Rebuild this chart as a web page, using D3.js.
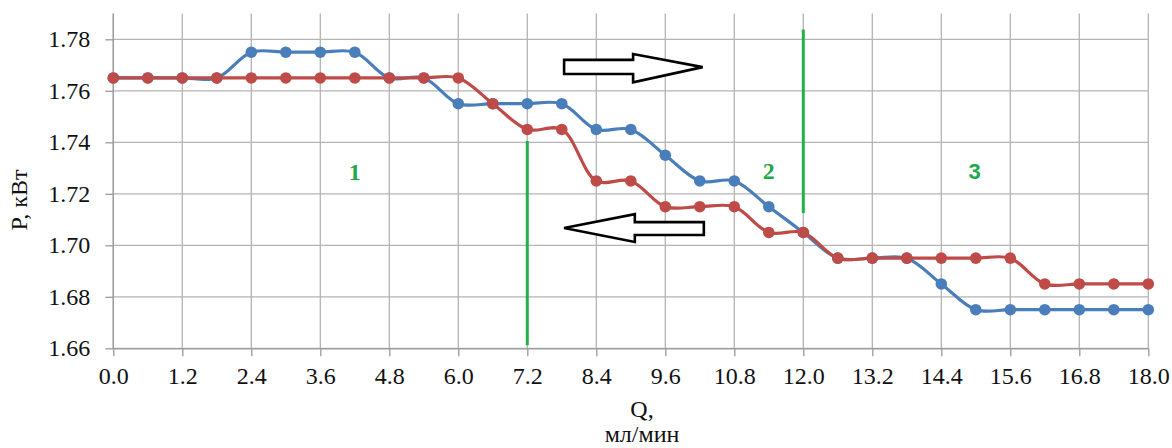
<!DOCTYPE html>
<html><head><meta charset="utf-8">
<script src="https://cdn.jsdelivr.net/npm/d3@7/dist/d3.min.js"></script>
<style>html,body{margin:0;padding:0;background:#fff;}svg{display:block;}</style>
</head><body>
<svg id="c" width="1172" height="448"></svg>
<script>
// ---- data ----
const qValues = [0,0.6,1.2,1.8,2.4,3.0,3.6,4.2,4.8,5.4,6.0,6.6,7.2,7.8,8.4,9.0,9.6,10.2,10.8,11.4,12.0,12.6,13.2,13.8,14.4,15.0,15.6,16.2,16.8,17.4,18.0];
const forwardP = [1.765,1.765,1.765,1.765,1.775,1.775,1.775,1.775,1.765,1.765,1.755,1.755,1.755,1.755,1.745,1.745,1.735,1.725,1.725,1.715,1.705,1.695,1.695,1.695,1.685,1.675,1.675,1.675,1.675,1.675,1.675];
const reverseP = [1.765,1.765,1.765,1.765,1.765,1.765,1.765,1.765,1.765,1.765,1.765,1.755,1.745,1.745,1.725,1.725,1.715,1.715,1.715,1.705,1.705,1.695,1.695,1.695,1.695,1.695,1.695,1.685,1.685,1.685,1.685];
const xTickValues = [0,1.2,2.4,3.6,4.8,6.0,7.2,8.4,9.6,10.8,12.0,13.2,14.4,15.6,16.8,18.0];
const yTickValues = [1.66,1.68,1.70,1.72,1.74,1.76,1.78];
const zoneLabels = ["1","2","3"];
const zoneLabelQ = [4.2,11.4,14.98];
const zoneLabelP = [1.7285,1.729,1.7285];
const boundaryQ = [7.2,12.0];
const boundaryLow = [1.6612,1.7125];
const boundaryHigh = [1.7405,1.7838];
// arrow outlines in data units [Q, P]
const arrowRight = [[7.84,1.7720],[9.04,1.7720],[9.04,1.7743],[10.25,1.7692],[9.04,1.7633],[9.04,1.7665],[7.84,1.7665]];
const arrowLeft = [[10.27,1.7090],[9.07,1.7090],[9.07,1.7121],[7.84,1.7067],[9.07,1.7013],[9.07,1.7040],[10.27,1.7040]];

// ---- chart ----
const svg = d3.select("#c");
const x = d3.scaleLinear().domain([0,18]).range([113.3,1148.3]);
const y = d3.scaleLinear().domain([1.66,1.79]).range([348.3,13.55]);
const serif = "'Liberation Serif','Times New Roman',serif";

// grid
svg.append("g").selectAll("line").data(yTickValues).join("line")
  .attr("x1",x(0)).attr("x2",x(18)).attr("y1",d=>y(d)).attr("y2",d=>y(d))
  .attr("stroke","#b4b4b4").attr("stroke-width",1.3);
svg.append("g").selectAll("line").data(xTickValues).join("line")
  .attr("x1",d=>x(d)).attr("x2",d=>x(d)).attr("y1",y(1.79)).attr("y2",y(1.66))
  .attr("stroke","#b4b4b4").attr("stroke-width",1.3);

// axes
const xAxis = d3.axisBottom(x).tickValues(xTickValues).tickFormat(d3.format(".1f")).tickSizeInner(8).tickSizeOuter(0).tickPadding(11);
const gx = svg.append("g").attr("transform",`translate(0,${y(1.66)})`).call(xAxis);
gx.select(".domain").attr("stroke","#9a9a9a").attr("stroke-width",1.3);
gx.selectAll(".tick line").attr("stroke","#9a9a9a").attr("stroke-width",1.3);
gx.selectAll("text").attr("font-family",serif).attr("font-size",24).attr("fill","#111");

const yAxis = d3.axisLeft(y).tickValues(yTickValues).tickFormat(d3.format(".2f")).tickSizeInner(8).tickSizeOuter(0).tickPadding(15);
const gy = svg.append("g").attr("transform",`translate(${x(0)},0)`).call(yAxis);
gy.select(".domain").remove();
gy.selectAll(".tick line").attr("stroke","#9a9a9a").attr("stroke-width",1.3);
gy.selectAll("text").attr("font-family",serif).attr("font-size",24).attr("fill","#111");
svg.append("line").attr("x1",x(0)).attr("x2",x(0)).attr("y1",y(1.79)).attr("y2",y(1.66))
  .attr("stroke","#9a9a9a").attr("stroke-width",1.3);

// axis titles
svg.append("text").attr("transform",`translate(27,200) rotate(-90)`).attr("text-anchor","middle")
  .attr("font-family",serif).attr("font-size",24).attr("fill","#111").text("P, кВт");
svg.append("text").attr("x",642).attr("y",417).attr("text-anchor","middle")
  .attr("font-family",serif).attr("font-size",24).attr("fill","#111").text("Q,");
svg.append("text").attr("x",642).attr("y",442).attr("text-anchor","middle")
  .attr("font-family",serif).attr("font-size",24).attr("fill","#111").text("мл/мин");

// zone boundaries
svg.append("g").selectAll("line").data(boundaryQ).join("line")
  .attr("x1",d=>x(d)).attr("x2",d=>x(d))
  .attr("y1",(d,i)=>y(boundaryLow[i])).attr("y2",(d,i)=>y(boundaryHigh[i]))
  .attr("stroke","#22b04b").attr("stroke-width",3);

// zone labels
svg.append("g").selectAll("text").data(zoneLabels).join("text")
  .attr("x",(d,i)=>x(zoneLabelQ[i])).attr("y",(d,i)=>y(zoneLabelP[i]))
  .attr("text-anchor","middle").attr("dominant-baseline","central")
  .attr("font-family",(d,i)=> i===2 ? "'Liberation Sans',Arial,sans-serif" : serif)
  .attr("font-weight","bold").attr("font-size",(d,i)=> i===2 ? 22 : 24).attr("fill","#22a84a").text(d=>d);

// series
const line = d3.line().x((d,i)=>x(qValues[i])).y(d=>y(d)).curve(d3.curveCatmullRom.alpha(0.5));
const series = [{vals:forwardP,color:"#4a7ebb"},{vals:reverseP,color:"#be4b48"}];
series.forEach(s=>{
  svg.append("path").datum(s.vals).attr("d",line).attr("fill","none")
    .attr("stroke",s.color).attr("stroke-width",3.2).attr("stroke-linejoin","round");
  svg.append("g").selectAll("circle").data(s.vals).join("circle")
    .attr("cx",(d,i)=>x(qValues[i])).attr("cy",d=>y(d)).attr("r",5.8).attr("fill",s.color);
});

// arrows
[arrowRight,arrowLeft].forEach(a=>{
  svg.append("polygon").attr("points",a.map(p=>[x(p[0]),y(p[1])].join(",")).join(" "))
    .attr("fill","#fff").attr("stroke","#000").attr("stroke-width",2.6).attr("stroke-linejoin","miter");
});
</script>
</body></html>
